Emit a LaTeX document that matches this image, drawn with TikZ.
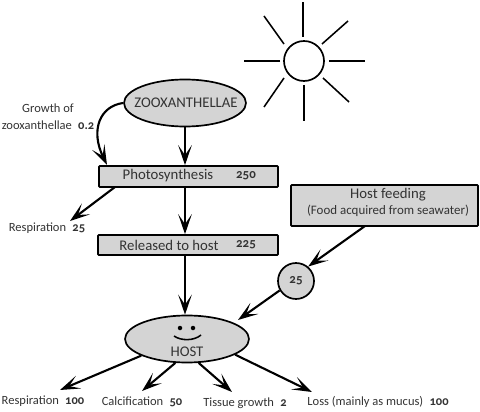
\documentclass[tikz,border=0pt]{standalone}
\usepackage{fontspec}
\setmainfont[Numbers=OldStyle]{Carlito}
\usetikzlibrary{arrows.meta,shapes.geometric}
\definecolor{boxgray}{HTML}{D4D4D4}
\definecolor{textgray}{HTML}{333333}
\tikzset{
  flow/.style={draw=black, line width=1.5pt, -{Stealth[length=5mm,width=3.4mm,inset=2.5mm]}},
  ray/.style={draw=black, line width=1.1pt},
  blob/.style={draw=black, line width=1.2pt, fill=boxgray, ellipse, inner sep=0pt, text=textgray},
  stepbox/.style={draw=black, line width=1.2pt, fill=boxgray, rectangle, rounded corners=0.5pt, inner sep=0pt, text=textgray},
  lab/.style={text=textgray, font=\fontsize{8.9}{10}\selectfont, inner sep=0pt},
  num/.style={text=textgray, font=\fontsize{9.2}{10}\selectfont\bfseries, inner sep=0pt},
  big/.style={text=textgray, font=\fontsize{10.5}{13}\selectfont, inner sep=0pt}
}
\begin{document}
\begin{tikzpicture}[x=0.25mm,y=-0.25mm]
\useasboundingbox (0,0) rectangle (480,412);
\node[stepbox, minimum width=179*0.25mm, minimum height=21*0.25mm] (photo) at (188.5,176.5) {};
\node[big] (phototxt) at (168,176) {Photosynthesis};
\node[num] (photoval) at (246,176) {250};
\node[stepbox, minimum width=180*0.25mm, minimum height=20*0.25mm] (rel) at (188,245) {};
\node[big] (reltxt) at (169,245) {Released to host};
\node[num] (relval) at (246,245) {225};
\node[stepbox, minimum width=187*0.25mm, minimum height=41*0.25mm] (feed) at (384.5,205.5) {};
\node[big] (feedtxt) at (388,195) {Host feeding};
\node[lab, font=\fontsize{9.2}{10}\selectfont] (feedsub) at (388,211) {(Food acquired from seawater)};
\node[blob, minimum width=122*0.25mm, minimum height=47*0.25mm] (zoox) at (185,103) {};
\node[big] (zooxtxt) at (186,103) {ZOOXANTHELLAE};
\node[blob, circle, minimum size=36*0.25mm, font=\fontsize{9.2}{10}\selectfont\bfseries] (fed) at (296,281) {25};
\node[blob, minimum width=124*0.25mm, minimum height=47*0.25mm] (host) at (187,339) {};
\node[big] (hosttxt) at (187,352) {HOST};
\node[circle, fill=black, minimum size=4.5*0.25mm, inner sep=0pt] (eyel) at (180,328) {};
\node[circle, fill=black, minimum size=4.5*0.25mm, inner sep=0pt] (eyer) at (193,328) {};
\draw[line width=1.1pt] (174,336) .. controls (181,341) and (194,341) .. (201,335);

\node[lab] (growth) at (48,108.5) {Growth of};
\node[lab] (growth2) at (48,125.5) {zooxanthellae\hspace{0.5em}\textbf{0.2}};
\node[lab] (resp1) at (47,228) {Respiration\hspace{0.5em}\textbf{25}};
\node[lab] (resp2) at (43,401) {Respiration\hspace{0.5em}\textbf{100}};
\node[lab] (calc) at (142,402) {Calcification\hspace{0.5em}\textbf{50}};
\node[lab] (tissue) at (245,403) {Tissue growth\hspace{0.5em}\textbf{2}};
\node[lab] (loss) at (378,402) {Loss (mainly as mucus)\hspace{0.5em}\textbf{100}};

\coordinate (c1) at (107,165);
\coordinate (r1) at (70,221);
\coordinate (r2) at (60,390);
\coordinate (ca) at (142,391);
\coordinate (ti) at (232,392);
\coordinate (lo) at (312,392);
\coordinate (fa) at (365,226);
\coordinate (pa) at (115,187);
\coordinate (ho) at (238,320);

\draw[flow] (zoox.south) -- (zoox.south |- photo.north);
\draw[flow] (zoox.west) .. controls (100,106) and (90,130) .. (c1);
\draw[flow] (pa) -- (r1);
\draw[flow] (zoox.south |- photo.south) -- (zoox.south |- rel.north);
\draw[flow] (zoox.south |- rel.south) -- (zoox.south |- host.north);
\draw[flow] (fa) -- (fed.50);
\draw[flow] (fed.210) -- (ho);
\draw[flow] (host.200) -- (r2);
\draw[flow] (host.244) -- (ca);
\draw[flow] (host.296) -- (ti);
\draw[flow] (host.-18) -- (lo);

\node[draw=black, line width=1.2pt, circle, minimum size=40*0.25mm, inner sep=0pt] (sun) at (304,61) {};
\draw[ray] (303,37) -- (303,2);
\draw[ray] (329,61) -- (365,61);
\draw[ray] (304,85) -- (304,121);
\draw[ray] (280,61) -- (244,61);
\draw[ray] (322,44) -- (348,21);
\draw[ray] (284,44) -- (264,16);
\draw[ray] (284,78) -- (264,107);
\draw[ray] (323,78) -- (349,102);
\end{tikzpicture}
\end{document}
